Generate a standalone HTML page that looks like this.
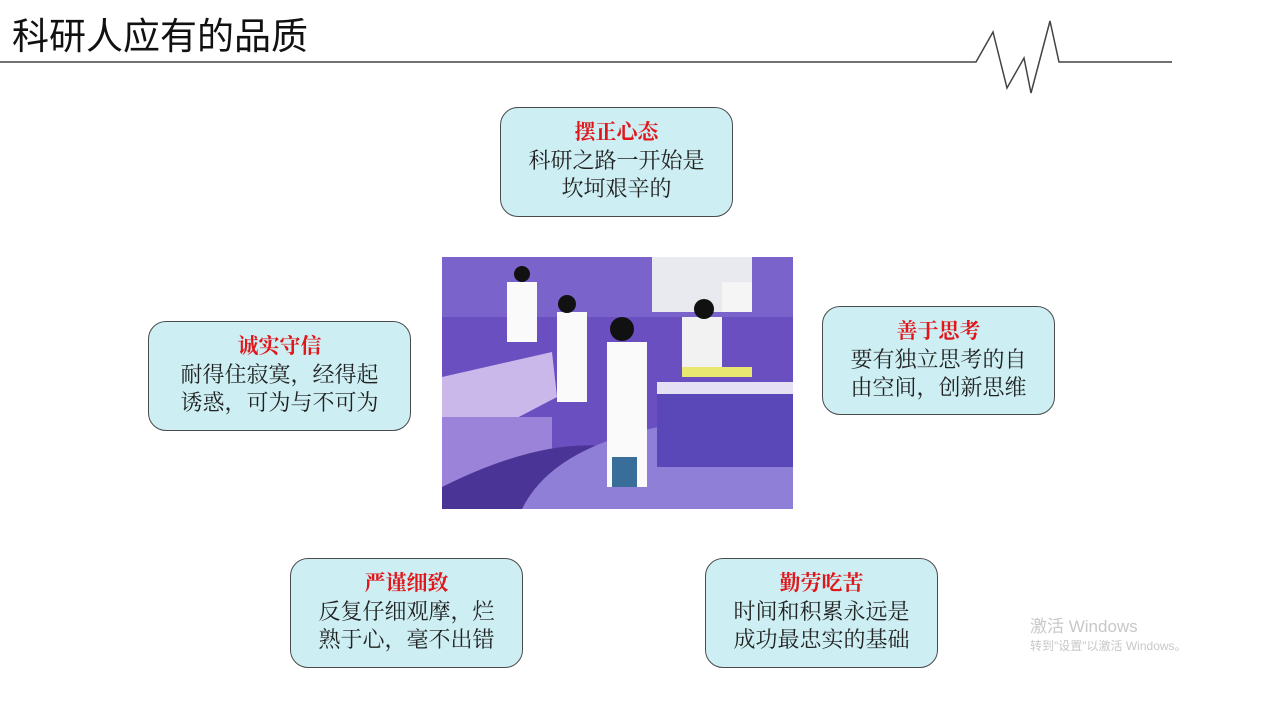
<!DOCTYPE html>
<html><head><meta charset="utf-8"><style>
body{margin:0;width:1269px;height:721px;background:#fff;position:relative;overflow:hidden;font-family:"Liberation Serif","Noto Serif CJK SC",serif;}
.t{position:absolute;left:12px;top:8px;font-size:37px;color:#111;font-family:"Noto Sans CJK SC",sans-serif;transform:scaleX(1.0);transform-origin:left;line-height:50px}
.b{position:absolute;box-sizing:border-box;border:1.5px solid #4a4a4a;border-radius:18px;background:#cdeff3;text-align:center;font-size:22px;line-height:28.5px;color:#222;padding-top:9px;font-family:"Noto Serif CJK SC",serif;}
.b b{color:#e0161b;font-family:"Noto Serif CJK SC",serif;font-weight:bold;font-size:21px;display:block}
</style></head><body>
<div class="t">科研人应有的品质</div>
<svg style="position:absolute;left:0;top:0" width="1269" height="721">
<polyline points="0,62 976,62 993,32 1007,88 1024,58 1031,93 1050,21 1059,62 1172,62" fill="none" stroke="#444" stroke-width="1.5"/>
<g transform="translate(442,257)">
<rect width="351" height="252" fill="#6a4fc0"/>
<rect x="0" y="0" width="351" height="60" fill="#7b63cc"/>
<rect x="210" y="0" width="100" height="55" fill="#e8eaf0"/>
<path d="M0,120 L110,95 L115,140 L0,200Z" fill="#cbb8ea"/>
<rect x="0" y="160" width="110" height="90" fill="#9a83d8"/>
<path d="M0,252 L0,230 Q100,180 170,190 L180,252Z" fill="#4a3596"/>
<path d="M80,252 Q120,170 300,160 L351,160 L351,252Z" fill="#8f7fd6"/>
<rect x="215" y="130" width="136" height="80" fill="#5a48b8"/>
<rect x="215" y="125" width="136" height="12" fill="#e6e0f5"/>
<rect x="240" y="60" width="40" height="55" fill="#f2f2f2"/>
<rect x="115" y="55" width="30" height="90" fill="#fafafa"/>
<rect x="65" y="25" width="30" height="60" fill="#fafafa"/>
<rect x="165" y="85" width="40" height="145" fill="#fafafa"/>
<rect x="170" y="200" width="25" height="30" fill="#3a6e9a"/>
<circle cx="180" cy="72" r="12" fill="#111"/>
<circle cx="125" cy="47" r="9" fill="#111"/>
<circle cx="262" cy="52" r="10" fill="#111"/>
<circle cx="80" cy="17" r="8" fill="#111"/>
<rect x="280" y="25" width="30" height="30" fill="#f5f5f5"/>
<rect x="240" y="110" width="70" height="10" fill="#e8e870"/>
</g>
</svg>
<div class="b" style="left:500px;top:107px;width:233px;height:110px"><b>摆正心态</b>科研之路一开始是<br>坎坷艰辛的</div>
<div class="b" style="left:148px;top:321px;width:263px;height:110px"><b>诚实守信</b>耐得住寂寞，经得起<br>诱惑，可为与不可为</div>
<div class="b" style="left:822px;top:306px;width:233px;height:109px"><b>善于思考</b>要有独立思考的自<br>由空间，创新思维</div>
<div class="b" style="left:290px;top:558px;width:233px;height:110px"><b>严谨细致</b>反复仔细观摩，烂<br>熟于心，毫不出错</div>
<div class="b" style="left:705px;top:558px;width:233px;height:110px"><b>勤劳吃苦</b>时间和积累永远是<br>成功最忠实的基础</div>
<div style="position:absolute;left:1030px;top:612px;color:#c8c8c8;font-size:17px;font-family:'Liberation Sans','Noto Sans CJK SC',sans-serif">激活 Windows<div style="font-size:12px">转到"设置"以激活 Windows。</div></div>
</body></html>
